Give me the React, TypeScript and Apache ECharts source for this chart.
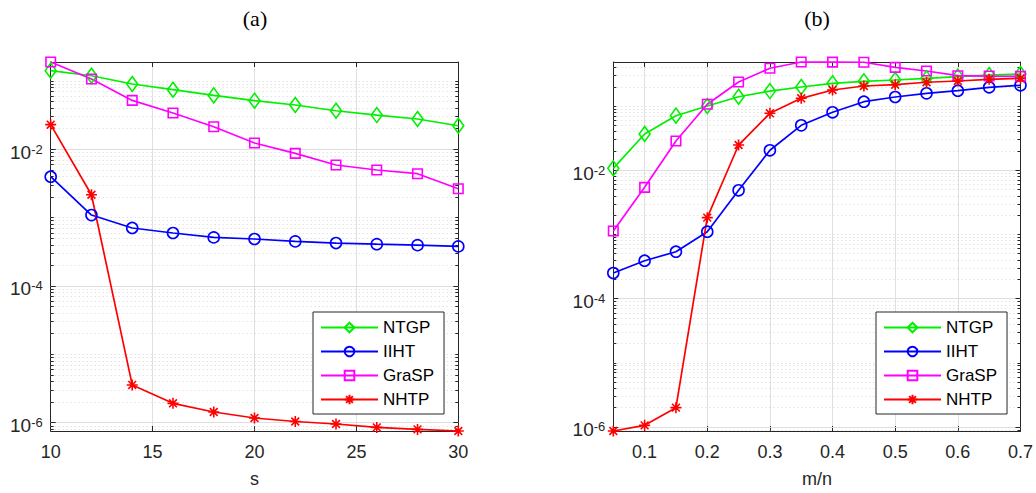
import React, { useEffect, useRef } from 'react';
import * as echarts from 'echarts';

// ---------- data (panel a: error vs s) ----------
const sValues = [10, 12, 14, 16, 18, 20, 22, 24, 26, 28, 30];
const ntgpA = [0.140, 0.118, 0.0893, 0.0737, 0.0608, 0.0509, 0.044, 0.0363, 0.0314, 0.0275, 0.0219];
const iihtA = [0.00393, 0.00108, 0.000699, 0.00059, 0.000509, 0.000482, 0.000445, 0.000421, 0.000405, 0.000392, 0.000376];
const graspA = [0.1875, 0.1057, 0.0514, 0.0336, 0.0212, 0.01224, 0.00862, 0.00583, 0.00493, 0.00435, 0.00262];
const nhtpA = [0.0227, 0.00214, 3.53e-6, 1.9e-6, 1.42e-6, 1.16e-6, 1.03e-6, 9.47e-7, 8.45e-7, 7.9e-7, 7.48e-7];

// ---------- data (panel b: error vs m/n) ----------
const mnValues = [0.05, 0.1, 0.15, 0.2, 0.25, 0.3, 0.35, 0.4, 0.45, 0.5, 0.55, 0.6, 0.65, 0.7];
const ntgpB = [0.01063, 0.0364, 0.0702, 0.0993, 0.1387, 0.17, 0.1966, 0.2244, 0.241, 0.2527, 0.2685, 0.2845, 0.302, 0.313];
const iihtB = [0.000248, 0.000386, 0.000533, 0.001093, 0.00483, 0.0203, 0.0497, 0.0793, 0.116, 0.1373, 0.1567, 0.172, 0.1945, 0.209];
const graspB = [0.00112, 0.00537, 0.0283, 0.1057, 0.235, 0.385, 0.482, 0.48, 0.478, 0.398, 0.349, 0.2947, 0.291, 0.288];
const nhtpB = [8.57e-7, 1.05e-6, 1.98e-6, 0.00181, 0.0245, 0.0765, 0.131, 0.1766, 0.2037, 0.2133, 0.233, 0.2437, 0.259, 0.2685];

const seriesNames = ['NTGP', 'IIHT', 'GraSP', 'NHTP'];
const seriesColors = ['#00f000', '#0000ff', '#ff00ff', '#ff0000'];
const panelTitles = ['(a)', '(b)'];
const xNames = ['s', 'm/n'];

const FONT = '"Liberation Sans", Arial, Helvetica, sans-serif';
const AX = '#262626';
const ASTERISK = 'path://M5,0L5,10M0,5L10,5M1.46,1.46L8.54,8.54M1.46,8.54L8.54,1.46';
const symbols: any[] = [
  { symbol: 'diamond', size: [11, 15] },
  { symbol: 'circle', size: 11 },
  { symbol: 'rect', size: 9.5 },
  { symbol: ASTERISK, size: 11 },
];

function logGrid(min: number, max: number) {
  const out: number[][] = [];
  for (let e = Math.floor(Math.log10(min)); e <= Math.ceil(Math.log10(max)); e++) {
    for (let k = 1; k <= 9; k++) {
      const v = k * Math.pow(10, e);
      if (v > min && v < max) out.push([v, k === 1 && e % 2 === 0 ? 1 : 0]);
    }
  }
  return out;
}

function logLabel(v: number) {
  const l = Math.log10(v);
  const e = Math.round(l);
  if (Math.abs(l - e) > 1e-6 || e % 2 !== 0) return '';
  return '{b|10}{s|' + e + '}';
}

export default function App() {
  const ref = useRef<HTMLDivElement>(null);
  useEffect(() => {
    if (!ref.current) return;
    const chart = echarts.init(ref.current, undefined, { renderer: 'svg' });

    const panels = [
      { xs: sValues, ys: [ntgpA, iihtA, graspA, nhtpA], xMin: 10, xMax: 30, interval: 5 as number | undefined },
      { xs: mnValues, ys: [ntgpB, iihtB, graspB, nhtpB], xMin: 0.05, xMax: 0.7, interval: undefined },
    ];
    const grids = [
      { left: 50.7, top: 62, width: 407.6, height: 369 },
      { left: 613.3, top: 62, width: 408, height: 369 },
    ];
    const legendPos = [
      { left: 313, top: 312 },
      { left: 876, top: 312 },
    ];

    const xAxis: any[] = [];
    const yAxis: any[] = [];
    const series: any[] = [];
    const legend: any[] = [];

    panels.forEach((p, gi) => {
      const all = p.ys.flat();
      const yMin = Math.min(...all);
      const yMax = Math.max(...all);
      const xLabel = {
        fontSize: 18, fontFamily: FONT, color: AX, margin: 12,
        formatter: (v: number) => {
          if (gi === 0) return String(v);
          const t = v * 10;
          return Math.abs(t - Math.round(t)) < 1e-6 ? v.toFixed(1) : '';
        },
      };
      xAxis.push({
        gridIndex: gi, type: 'value', position: 'bottom', min: p.xMin, max: p.xMax,
        ...(p.interval ? { interval: p.interval } : { splitNumber: 6 }),
        name: xNames[gi], nameLocation: 'middle', nameGap: 39,
        nameTextStyle: { fontSize: 18, fontFamily: FONT, color: AX },
        axisLine: { show: true, lineStyle: { color: AX, width: 1 } },
        axisTick: { show: true, inside: true, length: 5, lineStyle: { color: AX } },
        axisLabel: xLabel,
        splitLine: { show: true, showMinLine: false, showMaxLine: false, lineStyle: { color: '#e0e0e0', width: 1 } },
      });
      xAxis.push({
        gridIndex: gi, type: 'value', position: 'top', min: p.xMin, max: p.xMax,
        ...(p.interval ? { interval: p.interval } : { splitNumber: 6 }),
        axisLine: { show: true, lineStyle: { color: AX, width: 1 } },
        axisTick: { show: true, inside: true, length: 5, lineStyle: { color: AX } },
        axisLabel: { show: false },
        splitLine: { show: false },
      });
      yAxis.push({
        gridIndex: gi, type: 'log', logBase: 10, position: 'left', min: yMin, max: yMax,
        axisLine: { show: true, lineStyle: { color: AX, width: 1 } },
        axisTick: { show: false },
        splitLine: { show: false },
        axisLabel: {
          formatter: logLabel, margin: 8, padding: [6, 0, 0, 0], color: AX,
          rich: {
            b: { fontSize: 19, fontFamily: FONT, color: AX, lineHeight: 19, verticalAlign: 'bottom' },
            s: { fontSize: 13, fontFamily: FONT, color: AX, lineHeight: 13, verticalAlign: 'top', padding: [0, 0, 9, 0] },
          },
        },
      });
      yAxis.push({
        gridIndex: gi, type: 'log', logBase: 10, position: 'right', min: yMin, max: yMax,
        axisLine: { show: true, lineStyle: { color: AX, width: 1 } },
        axisTick: { show: false }, axisLabel: { show: false }, splitLine: { show: false },
      });

      // log grid lines + minor/major ticks (drawn through the axis scale)
      series.push({
        type: 'custom', name: 'grid' + gi, xAxisIndex: gi * 2, yAxisIndex: gi * 2,
        silent: true, z: 1, clip: false,
        dimensions: ['x', 'y', 'major'], encode: { x: 0, y: 1 },
        data: logGrid(yMin, yMax).map((g) => [p.xMin, g[0], g[1]]),
        renderItem: (params: any, api: any) => {
          const cs = params.coordSys;
          const pt = api.coord([api.value(0), api.value(1)]);
          const y = Math.round(pt[1]) + 0.5;
          const major = api.value(2) === 1;
          const tl = major ? 5 : 3;
          return {
            type: 'group',
            children: [
              {
                type: 'line', shape: { x1: cs.x, y1: y, x2: cs.x + cs.width, y2: y },
                style: major ? { stroke: '#dedede', lineWidth: 1 } : { stroke: '#d6d6d6', lineWidth: 1, lineDash: [1, 3] },
              },
              { type: 'line', shape: { x1: cs.x, y1: y, x2: cs.x + tl, y2: y }, style: { stroke: AX, lineWidth: 1 } },
              { type: 'line', shape: { x1: cs.x + cs.width - tl, y1: y, x2: cs.x + cs.width, y2: y }, style: { stroke: AX, lineWidth: 1 } },
            ],
          };
        },
      });

      p.ys.forEach((ys, si) => {
        series.push({
          type: 'line', name: seriesNames[si], xAxisIndex: gi * 2, yAxisIndex: gi * 2,
          data: p.xs.map((x, i) => [x, ys[i]]),
          symbol: symbols[si].symbol, symbolSize: symbols[si].size, showSymbol: true,
          lineStyle: { color: seriesColors[si], width: 1.7 },
          itemStyle: { color: 'rgba(0,0,0,0)', borderColor: seriesColors[si], borderWidth: 1.6 },
          emphasis: { disabled: true }, z: 3, clip: false,
        });
      });

      legend.push({
        data: seriesNames, orient: 'vertical', left: legendPos[gi].left, top: legendPos[gi].top,
        itemWidth: 57, itemHeight: 12, itemGap: 7, padding: [7, 10, 6, 7],
        backgroundColor: '#ffffff', borderColor: AX, borderWidth: 1, borderRadius: 0,
        selectedMode: false,
        textStyle: { fontSize: 17, fontFamily: FONT, color: '#000' },
      });
    });

    chart.setOption({
      animation: false,
      backgroundColor: '#ffffff',
      grid: grids.map((g) => ({ ...g, containLabel: false, show: false })),
      xAxis, yAxis, series, legend,
      graphic: panelTitles.map((t, i) => ({
        type: 'text', x: i === 0 ? 255 : 817, y: 18,
        style: { text: t, fontSize: 22, fontFamily: '"Liberation Serif", "Times New Roman", serif', fill: '#000', align: 'center', verticalAlign: 'middle' },
      })),
    });
    return () => chart.dispose();
  }, []);
  return <div ref={ref} style={{ position: 'fixed', left: 0, top: 0, width: 1036, height: 493 }} />;
}
